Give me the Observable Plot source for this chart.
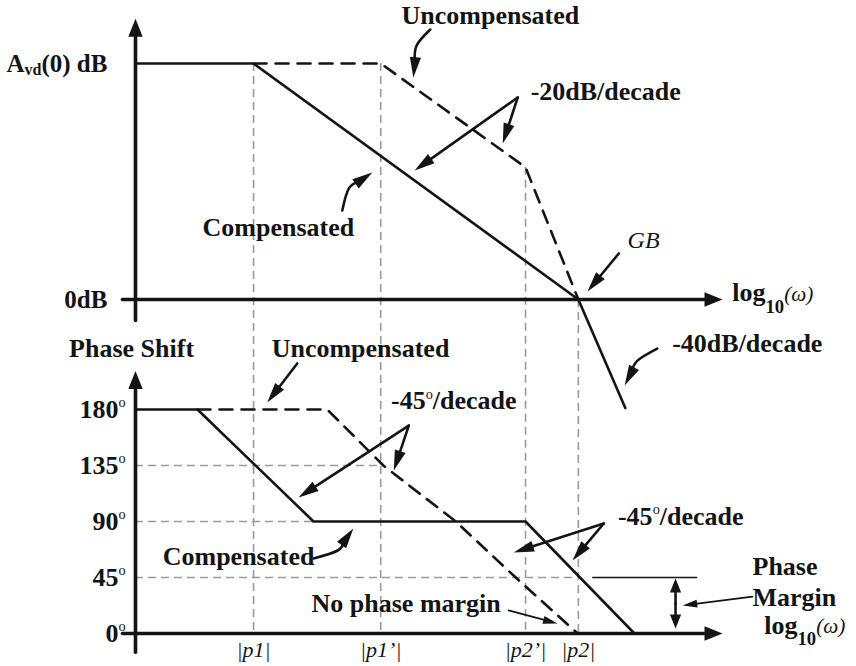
<!DOCTYPE html>
<html>
<head>
<meta charset="utf-8">
<script src="https://cdn.jsdelivr.net/npm/d3@7"></script>
<script src="https://cdn.jsdelivr.net/npm/@observablehq/plot@0.6"></script>
<style>
  html, body { margin: 0; padding: 0; background: #fff; }
  #chart { position: relative; width: 856px; height: 666px; overflow: hidden; background: #fff; }
  #chart > svg { position: absolute; left: 0; top: 0; }
</style>
</head>
<body>
<div id="chart"></div>
<script>
// ---------------- values ----------------
// x = log10(ω) in decades measured from the vertical axis, gain in dB, phase in degrees
const poleLabels   = ["|p1|", "|p1’|", "|p2’|", "|p2|"];
const poleX        = [1.81, 3.76, 5.98, 6.79];
const poleTopDb    = [100, 100, 56, 0];
const poleLabelDeg = -13;

const gainTickDb     = [100, 0];
const gainTickLabels = ["A_{vd}(0) dB", "0dB"];
const gainTickLabelX = -0.43;

const gainCompX    = [0, 1.81, 6.79, 7.51];
const gainCompDb   = [100, 100, 0, -46];
const gainUncompX  = [1.81, 3.76, 5.98, 6.79];
const gainUncompDb = [100, 100, 56, 0];

const phaseTickDeg    = [180, 135, 90, 45, 0];
const phaseTickLabels = ["180^{o}", "135^{o}", "90^{o}", "45^{o}", "0^{o}"];
const phaseTickLabelX = -0.15;
const phaseGridDeg    = [135, 90, 45];
const phaseGridEndX   = [3.76, 2.73, 6.79];

const phaseCompX     = [0, 0.95, 2.73, 5.98, 7.65];
const phaseCompDeg   = [180, 180, 90, 90, 0];
const phaseUncompX   = [0.95, 2.94, 3.80, 4.91, 5.83, 6.78];
const phaseUncompDeg = [180, 180, 135, 90, 45, 0];

const marginRefX     = [7.01, 8.62];
const marginRefDeg   = 45;
const marginArrowX   = 8.28;
const marginArrowDeg = [44.2, 24.1, 4.0];

// axes extents (data units)
const freqAxisX    = [-0.2, 9.0];
const gainAxisDb   = [-8.9, 119];
const phaseAxisDeg = [-15, 211];

// annotation texts (centre positions in data units)
const gainNotes    = ["Uncompensated", "-20dB/decade", "Compensated", "-40dB/decade"];
const gainNotesX   = [5.44, 7.21, 2.19, 9.38];
const gainNotesDb  = [120.3, 88.1, 30.5, -18.6];
const gbText = "GB", gbX = 7.79, gbDb = 25.0;
const gainAxisTitle = "log__{10}~{(ω)}", gainAxisTitleX = 9.15, gainAxisTitleDb = 2.7;

const phaseNotes    = ["Phase Shift", "Uncompensated", "-45^{o}/decade", "-45^{o}/decade", "No phase margin", "Compensated"];
const phaseNotesX   = [-0.06, 3.45, 4.88, 8.36, 4.15, 1.58];
const phaseNotesDeg = [229, 229, 187, 94, 24.1, 61.9];
const marginNotes    = ["Phase", "Margin", "log__{10}~{(ω)}"];
const marginNotesX   = [9.46, 9.46, 9.64];
const marginNotesDeg = [53.8, 28.9, 6.4];

// annotation arrows: tail ... tip (data units)
const gainArrows = [
  [[4.52, 114.4], [4.31, 107.6], [4.26, 94.1]],
  [[3.17, 37.7], [3.27, 47.0], [3.63, 53.8]],
  [[8.00, -20.8], [7.70, -25.8], [7.50, -36.4]],
  [[5.86, 85.6], [4.28, 54.7]],
  [[5.86, 85.6], [5.63, 66.1]],
  [[7.41, 19.5], [6.93, 3.4]]
];
const phaseArrows = [
  [[2.48, 217.0], [2.02, 185.6]],
  [[4.19, 167.1], [2.50, 109.3]],
  [[4.19, 167.1], [3.96, 131.0]],
  [[7.18, 88.4], [5.80, 65.1]],
  [[7.18, 88.4], [6.70, 58.7]],
  [[2.73, 60.3], [3.10, 66.7], [3.34, 84.4]]
];
const phaseThinArrows = [
  [[5.72, 18.5], [6.47, 8.0]],
  [[9.46, 29.7], [8.39, 22.5]]
];

// ---------------- layout / style ----------------
const W = 856, H = 666, ML = 135, MR = 134;
const X_DOMAIN = [0, 9];
const GAIN  = {domain: [0, 100], marginTop: 63,  marginBottom: 367};
const PHASE = {domain: [0, 180], marginTop: 409, marginBottom: 33};
const SERIF = "'Liberation Serif', 'Times New Roman', 'DejaVu Serif', serif";
const INK = "#141414";
const GRID = "#9a9a9a";

const xs     = Plot.scale({x: {domain: X_DOMAIN, range: [ML, W - MR]}});
const yGain  = Plot.scale({y: {domain: GAIN.domain, range: [H - GAIN.marginBottom, GAIN.marginTop]}});
const yPhase = Plot.scale({y: {domain: PHASE.domain, range: [H - PHASE.marginBottom, PHASE.marginTop]}});

function headShape(lenK, widK) {
  return {
    draw(ctx, size) {
      const s = Math.sqrt(size / Math.PI);
      ctx.moveTo(0, 0);
      ctx.lineTo(-widK * s, lenK * s);
      ctx.lineTo(widK * s, lenK * s);
      ctx.closePath();
    }
  };
}
const AXIS_HEAD = headShape(2.0, 0.8);
const NOTE_HEAD = headShape(2.9, 0.8);

function arrows(list, ys, r, lenK) {
  const lines = [], heads = [];
  list.forEach((pts, id) => {
    const P = pts.map(([x, y]) => [xs.apply(x), ys.apply(y)]);
    const n = P.length;
    const [tx, ty] = P[n - 1], [px, py] = P[n - 2];
    const dx = tx - px, dy = ty - py, len = Math.hypot(dx, dy);
    const back = Math.min(len * 0.9, r * lenK * 0.75);
    pts.slice(0, n - 1).forEach(([x, y]) => lines.push({id, x, y}));
    lines.push({id, x: xs.invert(tx - dx / len * back), y: ys.invert(ty - dy / len * back)});
    heads.push({x: pts[n - 1][0], y: pts[n - 1][1], angle: Math.atan2(dx, -dy) * 180 / Math.PI});
  });
  return {lines, heads};
}

function arrowMarks(a, r, shape, width) {
  return [
    Plot.line(a.lines, {x: "x", y: "y", z: "id", curve: "natural", stroke: INK, strokeWidth: width}),
    Plot.dot(a.heads, {x: "x", y: "y", rotate: "angle", r, symbol: shape, fill: INK, stroke: "none"})
  ];
}

const rows = (xsArr, ysArr) => xsArr.map((x, i) => ({x, y: ysArr[i]}));
const textBase = {fontFamily: SERIF, fill: INK};

// ---------------- gain (top) panel ----------------
const gridBottomDb = yGain.invert(yPhase.apply(0));
const poleRows = poleX.map((x, i) => ({x, top: poleTopDb[i], bottom: gridBottomDb}));

const gainAxes = arrows([
  [[freqAxisX[0], 0], [freqAxisX[1], 0]],
  [[0, gainAxisDb[0]], [0, gainAxisDb[1]]]
], yGain, 9, 2.0);

const gainPlot = Plot.plot({
  width: W, height: H,
  marginLeft: ML, marginRight: MR, marginTop: GAIN.marginTop, marginBottom: GAIN.marginBottom,
  x: {domain: X_DOMAIN, axis: null},
  y: {domain: GAIN.domain, axis: null},
  style: {background: "transparent", overflow: "visible"},
  marks: [
    Plot.ruleX(poleRows, {x: "x", y1: "top", y2: "bottom", stroke: GRID, strokeWidth: 1.6, strokeDasharray: "8,5"}),
    ...arrowMarks(gainAxes, 9, AXIS_HEAD, 3.6),
    Plot.line(rows(gainUncompX, gainUncompDb), {x: "x", y: "y", stroke: INK, strokeWidth: 2.6, strokeDasharray: "13,9"}),
    Plot.line(rows(gainCompX, gainCompDb), {x: "x", y: "y", stroke: INK, strokeWidth: 2.6}),
    ...arrowMarks(arrows(gainArrows, yGain, 7, 2.9), 7, NOTE_HEAD, 2.6),
    Plot.text(gainTickDb.map((y, i) => ({x: gainTickLabelX, y, t: gainTickLabels[i]})),
      {x: "x", y: "y", text: "t", textAnchor: "end", fontSize: 25, fontWeight: "bold", ...textBase}),
    Plot.text(gainNotes.map((t, i) => ({x: gainNotesX[i], y: gainNotesDb[i], t})),
      {x: "x", y: "y", text: "t", fontSize: 26, fontWeight: "bold", ...textBase}),
    Plot.text([{x: gbX, y: gbDb, t: gbText}],
      {x: "x", y: "y", text: "t", fontSize: 24, fontStyle: "italic", ...textBase}),
    Plot.text([{x: gainAxisTitleX, y: gainAxisTitleDb, t: gainAxisTitle}],
      {x: "x", y: "y", text: "t", textAnchor: "start", fontSize: 26, fontWeight: "bold", ...textBase})
  ]
});

// ---------------- phase (bottom) panel ----------------
const phaseAxes = arrows([
  [[freqAxisX[0], 0], [freqAxisX[1], 0]],
  [[0, phaseAxisDeg[0]], [0, phaseAxisDeg[1]]]
], yPhase, 9, 2.0);

const marginDouble = arrows([
  [[marginArrowX, marginArrowDeg[1]], [marginArrowX, marginArrowDeg[0]]],
  [[marginArrowX, marginArrowDeg[1]], [marginArrowX, marginArrowDeg[2]]]
], yPhase, 7, 2.0);

const phasePlot = Plot.plot({
  width: W, height: H,
  marginLeft: ML, marginRight: MR, marginTop: PHASE.marginTop, marginBottom: PHASE.marginBottom,
  x: {domain: X_DOMAIN, axis: null},
  y: {domain: PHASE.domain, axis: null},
  style: {background: "transparent", overflow: "visible"},
  marks: [
    Plot.ruleY(phaseGridDeg.map((y, i) => ({y, x2: phaseGridEndX[i]})),
      {y: "y", x1: 0, x2: "x2", stroke: GRID, strokeWidth: 1.6, strokeDasharray: "8,5"}),
    Plot.ruleY([{y: marginRefDeg, x1: marginRefX[0], x2: marginRefX[1]}],
      {y: "y", x1: "x1", x2: "x2", stroke: INK, strokeWidth: 1.5}),
    ...arrowMarks(phaseAxes, 9, AXIS_HEAD, 3.6),
    Plot.line(rows(phaseUncompX, phaseUncompDeg), {x: "x", y: "y", stroke: INK, strokeWidth: 2.6, strokeDasharray: "13,9"}),
    Plot.line(rows(phaseCompX, phaseCompDeg), {x: "x", y: "y", stroke: INK, strokeWidth: 2.6}),
    ...arrowMarks(arrows(phaseArrows, yPhase, 7, 2.9), 7, NOTE_HEAD, 2.6),
    ...arrowMarks(arrows(phaseThinArrows, yPhase, 5, 2.9), 5, NOTE_HEAD, 1.8),
    ...arrowMarks(marginDouble, 7, AXIS_HEAD, 2.6),
    Plot.text(phaseTickDeg.map((y, i) => ({x: phaseTickLabelX, y, t: phaseTickLabels[i]})),
      {x: "x", y: "y", text: "t", textAnchor: "end", fontSize: 26, fontWeight: "bold", ...textBase}),
    Plot.text(phaseNotes.map((t, i) => ({x: phaseNotesX[i], y: phaseNotesDeg[i], t})),
      {x: "x", y: "y", text: "t", fontSize: 26, fontWeight: "bold", ...textBase}),
    Plot.text(marginNotes.map((t, i) => ({x: marginNotesX[i], y: marginNotesDeg[i], t})),
      {x: "x", y: "y", text: "t", textAnchor: "start", fontSize: 26, fontWeight: "bold", ...textBase}),
    Plot.text(poleLabels.map((t, i) => ({x: poleX[i], y: poleLabelDeg, t})),
      {x: "x", y: "y", text: "t", fontSize: 22, fontStyle: "italic", ...textBase})
  ]
});

const chart = document.getElementById("chart");
chart.append(gainPlot, phasePlot);

// rich text: __{..} deep subscript, _{..} shallow subscript, ^{..} superscript, ~{..} small italic
const NS = "http://www.w3.org/2000/svg";
chart.querySelectorAll("text").forEach(t => {
  const s = t.textContent;
  if (!/[_~^]\{/.test(s)) return;
  const fs = parseFloat(getComputedStyle(t).fontSize) || 26;
  t.textContent = "";
  let shift = 0;
  for (const part of s.split(/(__?\{[^}]*\}|~\{[^}]*\}|\^\{[^}]*\})/)) {
    if (!part) continue;
    const ts = document.createElementNS(NS, "tspan");
    let target = 0;
    if (part.startsWith("__{")) {
      ts.textContent = part.slice(3, -1);
      ts.setAttribute("font-size", (fs * 0.72).toFixed(1));
      target = fs * 0.44;
    } else if (part.startsWith("_{")) {
      ts.textContent = part.slice(2, -1);
      ts.setAttribute("font-size", (fs * 0.64).toFixed(1));
      target = fs * 0.14;
    } else if (part.startsWith("^{")) {
      ts.textContent = part.slice(2, -1);
      ts.setAttribute("font-size", (fs * 0.55).toFixed(1));
      ts.setAttribute("font-weight", "normal");
      target = -fs * 0.4;
    } else if (part.startsWith("~{")) {
      ts.textContent = part.slice(2, -1);
      ts.setAttribute("font-size", (fs * 0.82).toFixed(1));
      ts.setAttribute("font-weight", "normal");
      ts.setAttribute("font-style", "italic");
      target = -fs * 0.02;
    } else {
      ts.textContent = part;
    }
    if (Math.abs(target - shift) > 1e-6) { ts.setAttribute("dy", (target - shift).toFixed(2)); shift = target; }
    t.appendChild(ts);
  }
});
</script>
</body>
</html>
